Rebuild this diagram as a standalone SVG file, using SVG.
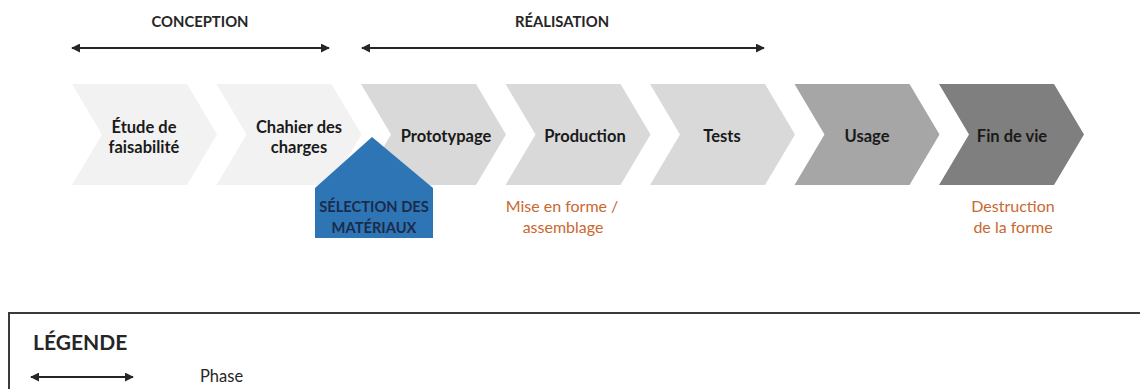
<svg xmlns="http://www.w3.org/2000/svg" width="1140" height="389" viewBox="0 0 1140 389">
<defs>
<marker id="ah" viewBox="0 0 10 10" refX="9" refY="5" markerWidth="4.5" markerHeight="4.5" orient="auto-start-reverse" markerUnits="strokeWidth">
<path d="M0,0 L10,5 L0,10 z" fill="#262626"/>
</marker>
<style>
.lbl{font-family:Lato,"Liberation Sans",sans-serif;font-weight:bold;font-size:16.5px;fill:#1a1a1a;text-anchor:middle}
.hdr{font-family:Lato,"Liberation Sans",sans-serif;font-weight:bold;font-size:14.8px;fill:#262626;text-anchor:middle}
.sub{font-family:Lato,"Liberation Sans",sans-serif;font-size:16px;fill:#C9682F;text-anchor:middle}
.sel{font-family:Lato,"Liberation Sans",sans-serif;font-weight:bold;font-size:14.7px;fill:#1c2b4a;text-anchor:middle}
.arr{stroke:#262626;stroke-width:2;fill:none;marker-start:url(#ah);marker-end:url(#ah)}
</style>
</defs>
<rect width="1140" height="389" fill="#ffffff"/>
<g id="connectors">
<line class="arr" x1="72" y1="48" x2="329" y2="48"/>
<line class="arr" x1="362" y1="48" x2="764" y2="48"/>
</g>
<g id="phase-conception"><text class="hdr" x="200" y="27">CONCEPTION</text></g>
<g id="phase-realisation"><text class="hdr" x="562" y="27">RÉALISATION</text></g>
<g id="etude">
<polygon points="72,84 187,84 217,134.5 187,185 72,185 102,134.5" fill="#F2F2F2"/>
<text class="lbl" x="144" y="133">Étude de</text>
<text class="lbl" x="144" y="153">faisabilité</text>
</g>
<g id="chahier">
<polygon points="216.5,84 331.5,84 361.5,134.5 331.5,185 216.5,185 246.5,134.5" fill="#F2F2F2"/>
<text class="lbl" x="299" y="133">Chahier des</text>
<text class="lbl" x="299" y="153">charges</text>
</g>
<g id="prototypage">
<polygon points="361,84 476,84 506,134.5 476,185 361,185 391,134.5" fill="#D9D9D9"/>
<text class="lbl" x="446" y="142">Prototypage</text>
</g>
<g id="production">
<polygon points="505.5,84 620.5,84 650.5,134.5 620.5,185 505.5,185 535.5,134.5" fill="#D9D9D9"/>
<text class="lbl" x="585" y="142">Production</text>
</g>
<g id="tests">
<polygon points="650,84 765,84 795,134.5 765,185 650,185 680,134.5" fill="#D9D9D9"/>
<text class="lbl" x="722" y="142">Tests</text>
</g>
<g id="usage">
<polygon points="794.5,84 909.5,84 939.5,134.5 909.5,185 794.5,185 824.5,134.5" fill="#A6A6A6"/>
<text class="lbl" x="867" y="142">Usage</text>
</g>
<g id="fin-de-vie">
<polygon points="939,84 1054,84 1084,134.5 1054,185 939,185 969,134.5" fill="#7F7F7F"/>
<text class="lbl" x="1012" y="142">Fin de vie</text>
</g>
<g id="selection">
<polygon points="372,137 433,188 433,238 315,238 315,188" fill="#2E75B6"/>
<text class="sel" x="374" y="212">SÉLECTION DES</text>
<text class="sel" x="374" y="233">MATÉRIAUX</text>
</g>
<g id="note-production">
<text class="sub" x="562" y="212">Mise en forme /</text>
<text class="sub" x="563" y="233">assemblage</text>
</g>
<g id="note-fin">
<text class="sub" x="1013" y="212">Destruction</text>
<text class="sub" x="1013" y="233">de la forme</text>
</g>
<g id="legende">
<rect x="9" y="313" width="1140" height="100" fill="none" stroke="#3a3a3a" stroke-width="2"/>
<text x="33" y="350" style="font-family:Lato,'Liberation Sans',sans-serif;font-weight:bold;font-size:21px;fill:#262626">LÉGENDE</text>
<line class="arr" x1="31" y1="377" x2="133" y2="377"/>
<text x="200" y="382" style="font-family:Lato,'Liberation Sans',sans-serif;font-size:16.5px;fill:#262626">Phase</text>
</g>
</svg>
